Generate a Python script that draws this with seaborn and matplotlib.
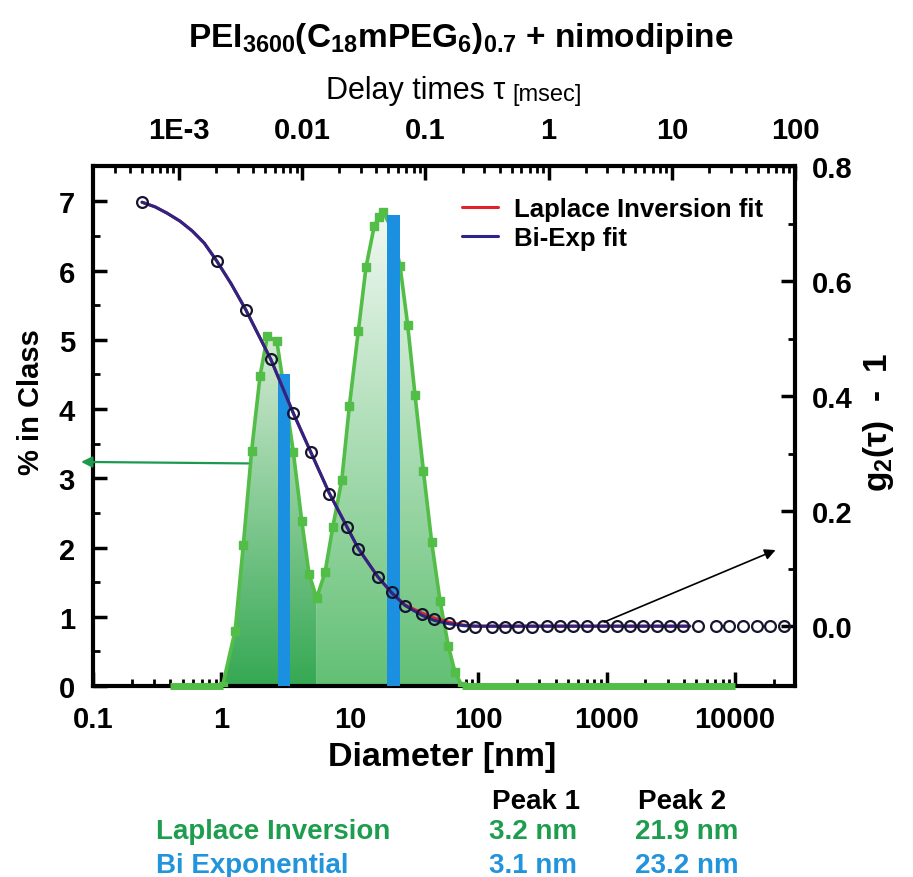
import numpy as np
import seaborn as sns
import matplotlib
matplotlib.use("Agg")
import matplotlib.pyplot as plt
from matplotlib.colors import LinearSegmentedColormap
from matplotlib.ticker import FixedLocator, FixedFormatter, LogLocator, NullFormatter

# size distribution (Laplace inversion), bottom / left axes
diam_nm = [1.02, 1.28, 1.48, 1.72, 2.00, 2.28, 2.70, 3.13, 3.63, 4.22, 4.81, 5.52,
           6.41, 7.36, 8.65, 9.93, 11.65, 13.37, 15.52, 16.87, 18.22, 21.2, 24.6,
           28.2, 32.2, 37.4, 43.4, 50.4, 58.5, 65.9, 74.8]
pct_class = [0.0, 0.80, 2.03, 3.40, 4.48, 5.05, 4.98, 4.20, 3.38, 2.39, 1.62, 1.27,
             1.64, 2.29, 2.97, 4.05, 5.13, 6.05, 6.65, 6.77, 6.85, 6.60, 6.07,
             5.22, 4.20, 3.11, 2.08, 1.23, 0.58, 0.20, 0.0]
split_idx = 11  # valley between the two peaks
base_left = [0.4, 1.02]
base_right = [74.8, 10000]

# bi-exponential peaks (bars)
bar_diam = [3.06, 21.8]
bar_pct = [4.5, 6.8]

# correlation function, top / right axes
tau_ms = [5.0e-4, 2.02e-3, 3.48e-3, 5.55e-3, 8.47e-3, 1.17e-2, 1.65e-2, 2.30e-2,
          2.85e-2, 4.10e-2, 5.32e-2, 6.82e-2, 9.33e-2, 0.118, 0.156, 0.203, 0.253,
          0.345, 0.443, 0.565, 0.733, 0.97, 1.24, 1.58, 2.05, 2.77, 3.59, 4.58,
          5.83, 7.59, 9.66, 12.3, 16.3, 22.9, 29.1, 37.8, 49.2, 62.7, 81.5]
g2m1 = [0.737, 0.635, 0.550, 0.464, 0.370, 0.303, 0.230, 0.173, 0.134, 0.086,
        0.059, 0.035, 0.021, 0.012, 0.005, 0.001, -0.001, -0.002, -0.002, -0.001,
        -0.001, 0.0, 0.0, 0.0, 0.0, 0.0, 0.0, 0.0, 0.0, 0.0, 0.0, 0.0, 0.0,
        0.0, 0.0, 0.0, 0.0, 0.0, 0.0]

fit_tau = [5.0e-4, 6.38e-4, 7.99e-4, 1.02e-3, 1.28e-3, 1.60e-3, 2.02e-3, 2.65e-3,
           3.48e-3, 5.55e-3, 8.47e-3, 1.17e-2, 1.65e-2, 2.30e-2, 2.85e-2, 4.10e-2,
           5.32e-2, 6.82e-2, 9.33e-2, 0.118, 0.156, 0.203, 0.253, 0.345, 0.6, 1.0,
           3.0, 14.0]
biexp_fit = [0.737, 0.729, 0.718, 0.704, 0.687, 0.666, 0.635, 0.595, 0.550, 0.464,
             0.370, 0.303, 0.232, 0.173, 0.135, 0.086, 0.058, 0.036, 0.019, 0.010,
             0.004, 0.001, 0.0, 0.0, 0.0, 0.0, 0.0, 0.0]
laplace_fit = [0.737, 0.729, 0.718, 0.704, 0.687, 0.666, 0.635, 0.595, 0.550, 0.464,
               0.370, 0.303, 0.232, 0.173, 0.135, 0.086, 0.058, 0.037, 0.023, 0.014,
               0.007, 0.002, 0.0, 0.0, 0.0, 0.0, 0.0, 0.0]

bottom_ticks = [0.1, 1, 10, 100, 1000, 10000]
bottom_labels = ["0.1", "1", "10", "100", "1000", "10000"]
top_ticks = [1e-3, 1e-2, 0.1, 1, 10, 100]
top_labels = ["1E-3", "0.01", "0.1", "1", "10", "100"]
left_ticks = [0, 1, 2, 3, 4, 5, 6, 7]
right_ticks = [0.0, 0.2, 0.4, 0.6, 0.8]

methods = ["Laplace Inversion", "Bi Exponential"]
peak1 = ["3.2 nm", "3.1 nm"]
peak2 = ["21.9 nm", "23.2 nm"]

GREEN = "#52bd47"
BLUE_BAR = "#1b8fe0"
NAVY = "#2a2586"
RED = "#e32228"

sns.set_theme(style="ticks")
plt.rcParams["font.family"] = ["Liberation Sans", "DejaVu Sans"]
plt.rcParams["font.weight"] = "bold"
plt.rcParams["mathtext.fontset"] = "custom"
plt.rcParams["mathtext.rm"] = "Liberation Sans:bold"
plt.rcParams["mathtext.it"] = "Liberation Sans:bold"
plt.rcParams["mathtext.bf"] = "Liberation Sans:bold"
for k in ["text.color", "axes.labelcolor", "xtick.color", "ytick.color", "axes.edgecolor"]:
    plt.rcParams[k] = "black"

fig = plt.figure(figsize=(9.13, 8.78), dpi=100)
rect = [93 / 913, 1 - 687 / 878, (795 - 93) / 913, (687 - 167) / 878]
ax = fig.add_axes(rect)
ax2 = fig.add_axes(rect, frameon=False)

ax.set_xscale("log")
ax.set_xlim(0.1, 29300)
ax.set_ylim(0, 7.51)
ax2.set_xscale("log")
ax2.set_xlim(2e-4, 100)
ax2.set_ylim(-0.104, 0.8)

# gradient fills under each peak
ax.set_autoscale_on(False)
peaks = [(diam_nm[:split_idx + 1], pct_class[:split_idx + 1], "#35a853", "#d3ebd4"),
         (diam_nm[split_idx:], pct_class[split_idx:], "#62c074", "#f1f8f2")]
grad = np.linspace(0, 1, 256).reshape(-1, 1)
for xs, ys, c0, c1 in peaks:
    poly = ax.fill_between(xs, ys, 0, facecolor="none", edgecolor="none")
    cmap = LinearSegmentedColormap.from_list("g", [c0, c1])
    im = ax.imshow(grad, cmap=cmap, origin="lower", aspect="auto",
                   extent=(0, 1, 0, max(ys) / 7.51), transform=ax.transAxes, zorder=1)
    im.set_clip_path(poly.get_paths()[0], transform=ax.transData)

sns.lineplot(x=diam_nm, y=pct_class, ax=ax, color=GREEN, lw=2.6, marker="s",
             markersize=5.5, markeredgewidth=1, markeredgecolor=GREEN,
             markerfacecolor=GREEN, sort=False, zorder=3)
for seg in [base_left, base_right]:
    ax.plot(seg, [0, 0], color=GREEN, lw=5, solid_capstyle="butt", clip_on=False, zorder=3)

half = 10 ** (0.097 / 2)
ax.bar([d / half for d in bar_diam], bar_pct,
       width=[d * half - d / half for d in bar_diam], align="edge",
       color=BLUE_BAR, edgecolor="none", linewidth=0, zorder=4)

# correlation data and fits
sns.lineplot(x=fit_tau, y=laplace_fit, ax=ax2, color=RED, lw=2.2, sort=False,
             label="Laplace Inversion fit")
sns.lineplot(x=fit_tau, y=biexp_fit, ax=ax2, color=NAVY, lw=2.2, sort=False,
             label="Bi-Exp fit")
sns.lineplot(x=tau_ms, y=g2m1, ax=ax2, linestyle="", marker="o", markersize=7.8,
             markerfacecolor="none", markeredgecolor="#15152e", markeredgewidth=1.6,
             sort=False)

# axes styling
for s in ax.spines.values():
    s.set_linewidth(3)
    s.set_zorder(2.5)

ax.xaxis.set_major_locator(FixedLocator(bottom_ticks))
ax.xaxis.set_major_formatter(FixedFormatter(bottom_labels))
ax.xaxis.set_minor_locator(LogLocator(base=10, subs=np.arange(2, 10), numticks=30))
ax.xaxis.set_minor_formatter(NullFormatter())
ax.yaxis.set_major_locator(FixedLocator(left_ticks))
ax.yaxis.set_minor_locator(FixedLocator([t + 0.5 for t in left_ticks[:-1]]))
ax.tick_params(which="both", direction="in", top=False, right=False)
ax.tick_params(which="major", length=10, width=2.5)
ax.tick_params(which="minor", length=5, width=2)
ax.tick_params(axis="x", which="major", pad=14, labelsize=21)
ax.tick_params(axis="y", which="major", pad=13, labelsize=21)

ax2.xaxis.tick_top()
ax2.yaxis.tick_right()
ax2.xaxis.set_major_locator(FixedLocator(top_ticks))
ax2.xaxis.set_major_formatter(FixedFormatter(top_labels))
ax2.xaxis.set_minor_locator(LogLocator(base=10, subs=np.arange(2, 10), numticks=30))
ax2.xaxis.set_minor_formatter(NullFormatter())
ax2.yaxis.set_major_locator(FixedLocator(right_ticks))
ax2.yaxis.set_major_formatter(FixedFormatter([f"{t:.1f}" for t in right_ticks]))
ax2.yaxis.set_minor_locator(FixedLocator([0.1, 0.3, 0.5, 0.7]))
ax2.tick_params(which="both", direction="in", bottom=False, left=False,
                labelbottom=False, labelleft=False, top=True, right=True,
                labeltop=True, labelright=True)
ax2.tick_params(which="major", length=10, width=2.5)
ax2.tick_params(which="minor", length=5, width=2)
ax2.tick_params(axis="x", which="major", pad=16, labelsize=21)
ax2.tick_params(axis="y", which="major", pad=12, labelsize=21)
ax2.set_xlabel("")
ax2.set_ylabel("")
ax.set_xlabel("")
ax.set_ylabel("")

ax2.legend(loc="upper left", bbox_to_anchor=(0.526, 0.94), borderpad=0,
           borderaxespad=0, handlelength=1.4, handletextpad=0.6, labelspacing=0.2,
           frameon=False, prop={"weight": "bold", "size": 18.5})

# arrows
ax.annotate("", xy=(-0.021, 0.431), xytext=(0.225, 0.428), xycoords="axes fraction",
            arrowprops=dict(arrowstyle="-|>", color="#1b9a4e", lw=1.6, mutation_scale=16),
            annotation_clip=False, zorder=6)
ax2.annotate("", xy=(0.976, 0.2635), xytext=(0.7246, 0.121), xycoords="axes fraction",
             arrowprops=dict(arrowstyle="-|>", color="black", lw=1.2, mutation_scale=16),
             annotation_clip=False, zorder=6)

# texts
fig.text(461 / 913, 1 - 38 / 878, r"PEI$_{3600}$(C$_{18}$mPEG$_{6}$)$_{0.7}$ + nimodipine",
         ha="center", va="center", fontsize=24, fontweight="bold")
t1 = fig.text(326 / 913, 1 - 91 / 878, "Delay times τ", ha="left", va="center",
              fontsize=22, fontweight="normal")
ax2.annotate("[msec]", xy=(1, 0), xycoords=t1, xytext=(5, 0), textcoords="offset points",
             ha="left", va="bottom", fontsize=17, fontweight="normal", annotation_clip=False)
fig.text(442 / 913, 1 - 758 / 878, "Diameter [nm]", ha="center", va="center",
         fontsize=24.5, fontweight="bold")
fig.text(31 / 913, 1 - 402 / 878, "% in Class", rotation=90, ha="center", va="center",
         fontsize=21, fontweight="bold")
fig.text(878 / 913, 1 - 422 / 878, r"g$_2$(τ)  -  1", rotation=90, ha="center", va="center",
         fontsize=24, fontweight="bold")

fig.text(492 / 913, 1 - 802 / 878, "Peak 1", ha="left", va="center", fontsize=20)
fig.text(638 / 913, 1 - 802 / 878, "Peak 2", ha="left", va="center", fontsize=20)
for i, (name, col) in enumerate(zip(methods, ["#1e9d4f", "#2194db"])):
    y = 1 - (832 + 34 * i) / 878
    fig.text(156 / 913, y, name, ha="left", va="center", fontsize=20, color=col)
    fig.text(489 / 913, y, peak1[i], ha="left", va="center", fontsize=20, color=col)
    fig.text(635 / 913, y, peak2[i], ha="left", va="center", fontsize=20, color=col)

fig.savefig("out.png", dpi=100)
